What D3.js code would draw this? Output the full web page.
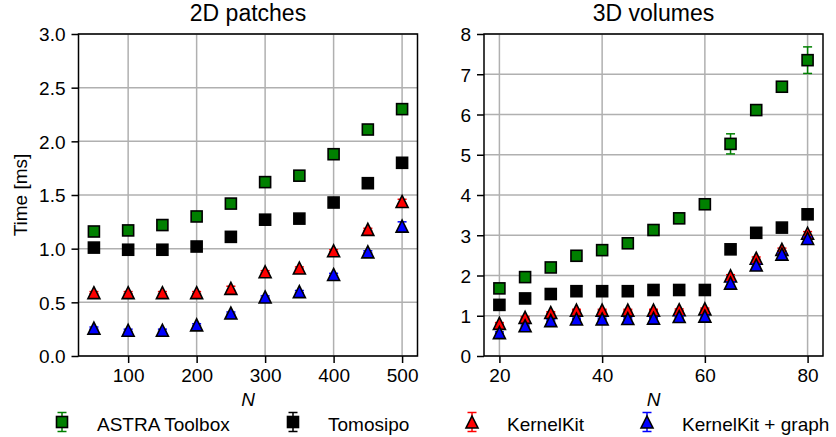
<!DOCTYPE html>
<html><head><meta charset="utf-8">
<script src="https://cdn.jsdelivr.net/npm/d3@7"></script>
<style>
body{margin:0;background:#fff;}
svg{display:block;font-family:"Liberation Sans",Arial,Helvetica,sans-serif;}
</style></head>
<body>
<svg id="c" width="836" height="437"></svg>
<script>
// ---------- data ----------
const seriesNames = ["ASTRA Toolbox", "Tomosipo", "KernelKit", "KernelKit + graph"];
const seriesColors = ["#008000", "#000000", "#ff0000", "#0000ff"];
const seriesShapes = ["square", "square", "triangle", "triangle"];

const N2D = [50, 100, 150, 200, 250, 300, 350, 400, 450, 500];
const astra2D  = [1.16, 1.17, 1.22, 1.30, 1.42, 1.62, 1.68, 1.88, 2.11, 2.30];
const tomo2D   = [1.01, 0.99, 0.99, 1.02, 1.11, 1.27, 1.28, 1.43, 1.61, 1.80];
const kk2D     = [0.59, 0.59, 0.59, 0.59, 0.63, 0.785, 0.82, 0.98, 1.18, 1.44];
const kkg2D    = [0.26, 0.24, 0.24, 0.29, 0.40, 0.55, 0.60, 0.76, 0.97, 1.21];
const astra2DErr = [0.02, 0.02, 0.02, 0.02, 0.02, 0.02, 0.02, 0.02, 0.02, 0.02];
const tomo2DErr  = [0.01, 0.01, 0.01, 0.01, 0.01, 0.01, 0.01, 0.01, 0.01, 0.01];
const kk2DErr    = [0.01, 0.01, 0.01, 0.01, 0.02, 0.01, 0.01, 0.01, 0.01, 0.02];
const kkg2DErr   = [0.01, 0.01, 0.01, 0.01, 0.01, 0.01, 0.01, 0.01, 0.01, 0.04];

const N3D = [20, 25, 30, 35, 40, 45, 50, 55, 60, 65, 70, 75, 80];
const astra3D = [1.68, 1.96, 2.20, 2.49, 2.63, 2.80, 3.13, 3.42, 3.77, 5.27, 6.11, 6.69, 7.35];
const tomo3D  = [1.27, 1.43, 1.54, 1.61, 1.61, 1.61, 1.64, 1.64, 1.64, 2.65, 3.06, 3.19, 3.52];
const kk3D    = [0.81, 0.96, 1.08, 1.14, 1.14, 1.14, 1.14, 1.15, 1.17, 1.99, 2.43, 2.65, 3.05];
const kkg3D   = [0.58, 0.75, 0.88, 0.92, 0.92, 0.93, 0.94, 0.98, 0.99, 1.81, 2.26, 2.53, 2.92];
const astra3DErr = [0.05, 0.05, 0.05, 0.06, 0.05, 0.10, 0.05, 0.05, 0.06, 0.25, 0.08, 0.07, 0.33];
const tomo3DErr  = [0.02, 0.02, 0.02, 0.02, 0.02, 0.02, 0.02, 0.02, 0.02, 0.03, 0.03, 0.03, 0.03];
const kk3DErr    = [0.02, 0.02, 0.02, 0.02, 0.02, 0.02, 0.02, 0.02, 0.02, 0.03, 0.03, 0.03, 0.04];
const kkg3DErr   = [0.02, 0.02, 0.02, 0.02, 0.02, 0.02, 0.02, 0.02, 0.02, 0.03, 0.03, 0.03, 0.04];

const xTicks2D = [100, 200, 300, 400, 500];
const yTicks2D = [0.0, 0.5, 1.0, 1.5, 2.0, 2.5, 3.0];
const xTicks3D = [20, 40, 60, 80];
const yTicks3D = [0, 1, 2, 3, 4, 5, 6, 7, 8];

const panels = [
  {title: "2D patches", x: N2D, ys: [astra2D, tomo2D, kk2D, kkg2D], errs: [astra2DErr, tomo2DErr, kk2DErr, kkg2DErr],
   xdom: [27.5, 522.5], ydom: [0, 3], xt: xTicks2D, yt: yTicks2D, yfmt: d3.format(".1f"),
   left: 78.5, right: 417.5, ylabel: "Time [ms]"},
  {title: "3D volumes", x: N3D, ys: [astra3D, tomo3D, kk3D, kkg3D], errs: [astra3DErr, tomo3DErr, kk3DErr, kkg3DErr],
   xdom: [17, 83], ydom: [0, 8], xt: xTicks3D, yt: yTicks3D, yfmt: d3.format("d"),
   left: 484, right: 823, ylabel: null}
];

const plotTop = 34, plotBottom = 356;
const svg = d3.select("#c");
const FS = 19;

function marker(g, shape, cx, cy, fill) {
  if (shape === "square") {
    g.append("rect").attr("x", cx - 5.5).attr("y", cy - 5.5).attr("width", 11).attr("height", 11)
      .attr("fill", fill).attr("stroke", "#000").attr("stroke-width", 1.6);
  } else {
    const h = 6;
    g.append("path").attr("d", `M${cx},${cy - h}L${cx + h},${cy + h}L${cx - h},${cy + h}Z`)
      .attr("fill", fill).attr("stroke", "#000").attr("stroke-width", 1.6).attr("stroke-linejoin", "miter");
  }
}

panels.forEach(p => {
  const x = d3.scaleLinear().domain(p.xdom).range([p.left, p.right]);
  const y = d3.scaleLinear().domain(p.ydom).range([plotBottom, plotTop]);
  const g = svg.append("g");

  // grid
  g.append("g").selectAll("line").data(p.xt).join("line")
    .attr("x1", d => x(d)).attr("x2", d => x(d)).attr("y1", plotTop).attr("y2", plotBottom)
    .attr("stroke", "#b0b0b0").attr("stroke-width", 1.5);
  g.append("g").selectAll("line").data(p.yt).join("line")
    .attr("y1", d => y(d)).attr("y2", d => y(d)).attr("x1", p.left).attr("x2", p.right)
    .attr("stroke", "#b0b0b0").attr("stroke-width", 1.5);

  // axes
  const ax = g.append("g").attr("transform", `translate(0,${plotBottom})`)
    .call(d3.axisBottom(x).tickValues(p.xt).tickSize(7).tickPadding(6).tickFormat(d3.format("d")));
  const ay = g.append("g").attr("transform", `translate(${p.left},0)`)
    .call(d3.axisLeft(y).tickValues(p.yt).tickSize(7).tickPadding(6).tickFormat(p.yfmt));
  [ax, ay].forEach(a => {
    a.select(".domain").remove();
    a.selectAll(".tick line").attr("stroke", "#000").attr("stroke-width", 1.5);
    a.selectAll(".tick text").attr("font-size", FS).attr("fill", "#000")
      .attr("font-family", '"Liberation Sans",Arial,sans-serif');
  });
  ay.selectAll(".tick text").attr("dy", "0.36em");

  // data
  p.ys.forEach((vals, si) => {
    const sg = g.append("g");
    const col = seriesColors[si];
    vals.forEach((v, i) => {
      const cx = x(p.x[i]);
      const e = p.errs[si][i];
      const y1 = y(v + e), y2 = y(v - e);
      sg.append("line").attr("x1", cx).attr("x2", cx).attr("y1", y1).attr("y2", y2)
        .attr("stroke", col).attr("stroke-width", 1.5);
      [y1, y2].forEach(yy => sg.append("line").attr("x1", cx - 4.5).attr("x2", cx + 4.5)
        .attr("y1", yy).attr("y2", yy).attr("stroke", col).attr("stroke-width", 1.5));
    });
    vals.forEach((v, i) => marker(sg, seriesShapes[si], x(p.x[i]), y(v), col));
  });

  // frame
  g.append("rect").attr("x", p.left).attr("y", plotTop).attr("width", p.right - p.left).attr("height", plotBottom - plotTop)
    .attr("fill", "none").attr("stroke", "#000").attr("stroke-width", 1.5);

  // title
  g.append("text").attr("x", (p.left + p.right) / 2).attr("y", 21).attr("text-anchor", "middle")
    .attr("font-size", 23).text(p.title);
  // x label
  g.append("text").attr("x", (p.left + p.right) / 2).attr("y", 406).attr("text-anchor", "middle")
    .attr("font-size", FS).attr("font-style", "italic").text("N");
  if (p.ylabel) {
    g.append("text").attr("transform", `translate(27,${(plotTop + plotBottom) / 2}) rotate(-90)`)
      .attr("text-anchor", "middle").attr("font-size", FS).text(p.ylabel);
  }
});

// legend
const legX = [62, 293, 472, 647];
const legY = 422;
seriesNames.forEach((name, i) => {
  const lg = svg.append("g");
  const col = seriesColors[i];
  lg.append("line").attr("x1", legX[i]).attr("x2", legX[i]).attr("y1", legY - 9.5).attr("y2", legY + 9.5)
    .attr("stroke", col).attr("stroke-width", 1.5);
  [legY - 9.5, legY + 9.5].forEach(yy => lg.append("line").attr("x1", legX[i] - 4.5).attr("x2", legX[i] + 4.5)
    .attr("y1", yy).attr("y2", yy).attr("stroke", col).attr("stroke-width", 1.5));
  marker(lg, seriesShapes[i], legX[i], legY, col);
  lg.append("text").attr("x", legX[i] + 35).attr("y", legY + 9).attr("font-size", FS).text(name);
});
</script>
</body></html>
